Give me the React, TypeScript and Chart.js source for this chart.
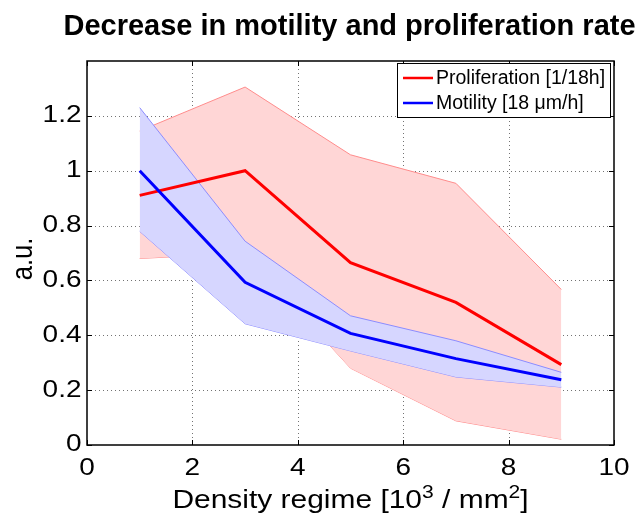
import React, { useEffect, useRef } from "react";
import { Chart, registerables } from "chart.js";

Chart.register(...registerables);

const xValues = [1, 3, 5, 7, 9];
const prolifMean = [0.91, 1.0, 0.665, 0.52, 0.293];
const prolifUpper = [1.145, 1.305, 1.058, 0.954, 0.567];
const prolifLower = [0.68, 0.7, 0.28, 0.088, 0.021];
const motilMean = [1.0, 0.593, 0.407, 0.315, 0.238];
const motilUpper = [1.23, 0.743, 0.471, 0.38, 0.265];
const motilLower = [0.779, 0.442, 0.343, 0.248, 0.211];

const xTicks = [0, 2, 4, 6, 8, 10];
const yTicks = [0, 0.2, 0.4, 0.6, 0.8, 1, 1.2];
const yMax = 1.4;

const titleText = "Decrease in motility and proliferation rate";
const yTitle = "a.u.";
const legendLabels = ["Proliferation [1/18h]", "Motility [18 \u03bcm/h]"];

const FONT = '"Liberation Sans", Arial, Helvetica, sans-serif';

const pts = (ys: number[]) => xValues.map((x, i) => ({ x, y: ys[i] }));

function sText(
  ctx: CanvasRenderingContext2D,
  text: string,
  x: number,
  y: number,
  font: string,
  align: CanvasTextAlign,
  baseline: CanvasTextBaseline,
  sx = 1
) {
  ctx.save();
  ctx.font = font;
  ctx.textAlign = align;
  ctx.textBaseline = baseline;
  ctx.fillStyle = "#000";
  ctx.translate(x, y);
  ctx.scale(sx, 1);
  ctx.fillText(text, 0, 0);
  ctx.restore();
}

const decor = {
  id: "decor",
  beforeDatasetsDraw(chart: any) {
    const { ctx, chartArea: a, scales } = chart;
    ctx.save();
    ctx.strokeStyle = "rgba(0,0,0,0.55)";
    ctx.lineWidth = 1;
    ctx.setLineDash([1, 3]);
    xTicks.forEach((t) => {
      if (t <= 0 || t >= 10) return;
      const px = Math.round(scales.x.getPixelForValue(t)) + 0.5;
      ctx.beginPath();
      ctx.moveTo(px, a.top);
      ctx.lineTo(px, a.bottom);
      ctx.stroke();
    });
    yTicks.forEach((t) => {
      if (t <= 0) return;
      const py = Math.round(scales.y.getPixelForValue(t)) + 0.5;
      ctx.beginPath();
      ctx.moveTo(a.left, py);
      ctx.lineTo(a.right, py);
      ctx.stroke();
    });
    ctx.restore();
  },
  afterDraw(chart: any) {
    const { ctx, chartArea: a, scales } = chart;
    ctx.save();
    // axes box
    ctx.strokeStyle = "#000";
    ctx.lineWidth = 1.5;
    ctx.strokeRect(a.left, a.top, a.right - a.left, a.bottom - a.top);
    // inward ticks
    ctx.lineWidth = 1;
    const L = 5;
    xTicks.forEach((t) => {
      const px = Math.round(scales.x.getPixelForValue(t)) + 0.5;
      ctx.beginPath();
      ctx.moveTo(px, a.bottom);
      ctx.lineTo(px, a.bottom - L);
      ctx.moveTo(px, a.top);
      ctx.lineTo(px, a.top + L);
      ctx.stroke();
    });
    yTicks.forEach((t) => {
      const py = Math.round(scales.y.getPixelForValue(t)) + 0.5;
      ctx.beginPath();
      ctx.moveTo(a.left, py);
      ctx.lineTo(a.left + L, py);
      ctx.moveTo(a.right, py);
      ctx.lineTo(a.right - L, py);
      ctx.stroke();
    });

    // tick labels
    const tickFont = `23.5px ${FONT}`;
    const TS = 1.19;
    xTicks.forEach((t) => {
      const px = scales.x.getPixelForValue(t);
      sText(ctx, String(t), px, 475, tickFont, "center", "alphabetic", TS);
    });
    yTicks.forEach((t) => {
      const py = scales.y.getPixelForValue(t);
      sText(ctx, String(Math.round(t * 10) / 10), 81.5, py, tickFont, "right", "middle", TS);
    });

    // legend
    const lx = 397, ly = 63, lw = 213, lh = 54;
    ctx.fillStyle = "#fff";
    ctx.fillRect(lx, ly, lw, lh);
    ctx.strokeStyle = "#000";
    ctx.lineWidth = 1;
    ctx.strokeRect(lx + 0.5, ly + 0.5, lw, lh);
    const colors = ["#ff0000", "#0000ff"];
    const rows = [78, 103];
    rows.forEach((ry, i) => {
      ctx.strokeStyle = colors[i];
      ctx.lineWidth = 2.5;
      ctx.beginPath();
      ctx.moveTo(403, ry);
      ctx.lineTo(433, ry);
      ctx.stroke();
      sText(ctx, legendLabels[i], 436, ry + 1, `19.5px ${FONT}`, "left", "middle", 1);
    });

    // title
    sText(ctx, titleText, 349.5, 35, `bold 29px ${FONT}`, "center", "alphabetic", 1);

    // y title (image is stretched horizontally, i.e. along the text height)
    ctx.save();
    ctx.translate(24, 259);
    ctx.scale(1.17, 1);
    ctx.rotate(-Math.PI / 2);
    ctx.font = `25.6px ${FONT}`;
    ctx.textAlign = "center";
    ctx.textBaseline = "middle";
    ctx.fillStyle = "#000";
    ctx.fillText(yTitle, 0, 0);
    ctx.restore();

    // x title with superscripts
    const segs: { t: string; sup: boolean }[] = [
      { t: "Density regime [10", sup: false },
      { t: "3", sup: true },
      { t: " / mm", sup: false },
      { t: "2", sup: true },
      { t: "]", sup: false },
    ];
    const XS = 1.17;
    const normal = `25.6px ${FONT}`;
    const small = `18px ${FONT}`;
    let total = 0;
    segs.forEach((s) => {
      ctx.font = s.sup ? small : normal;
      total += ctx.measureText(s.t).width * XS;
    });
    let cx = 350.5 - total / 2;
    const base = 508;
    segs.forEach((s) => {
      const f = s.sup ? small : normal;
      sText(ctx, s.t, cx, s.sup ? base - 10 : base, f, "left", "alphabetic", XS);
      ctx.font = f;
      cx += ctx.measureText(s.t).width * XS;
    });
    ctx.restore();
  },
};

export default function App() {
  const ref = useRef<HTMLCanvasElement | null>(null);
  useEffect(() => {
    if (!ref.current) return;
    const chart = new Chart(ref.current, {
      type: "line",
      data: {
        datasets: [
          {
            label: "pu",
            data: pts(prolifUpper),
            borderColor: "rgb(255,140,140)",
            borderWidth: 1,
            backgroundColor: "rgb(255,214,214)",
            fill: "+1",
            pointRadius: 0,
            order: 5,
          },
          {
            label: "pl",
            data: pts(prolifLower),
            borderColor: "rgb(255,140,140)",
            borderWidth: 1,
            fill: false,
            pointRadius: 0,
            order: 5,
          },
          {
            label: "mu",
            data: pts(motilUpper),
            borderColor: "rgb(140,140,255)",
            borderWidth: 1,
            backgroundColor: "rgb(214,214,255)",
            fill: "+1",
            pointRadius: 0,
            order: 4,
          },
          {
            label: "ml",
            data: pts(motilLower),
            borderColor: "rgb(140,140,255)",
            borderWidth: 1,
            fill: false,
            pointRadius: 0,
            order: 4,
          },
          {
            label: legendLabels[0],
            data: pts(prolifMean),
            borderColor: "#ff0000",
            borderWidth: 3,
            fill: false,
            pointRadius: 0,
            order: 2,
          },
          {
            label: legendLabels[1],
            data: pts(motilMean),
            borderColor: "#0000ff",
            borderWidth: 3,
            fill: false,
            pointRadius: 0,
            order: 1,
          },
        ],
      },
      options: {
        animation: false,
        responsive: true,
        maintainAspectRatio: false,
        layout: { padding: { top: 61, right: 28, left: 0, bottom: 0 } },
        plugins: {
          legend: { display: false },
          tooltip: { enabled: false },
          title: { display: false },
        },
        elements: { line: { tension: 0 } },
        scales: {
          x: {
            type: "linear",
            min: 0,
            max: 10,
            afterFit: (s: any) => {
              s.height = 70;
            },
            grid: { display: false, drawTicks: false },
            border: { display: false },
            ticks: { display: false },
          },
          y: {
            type: "linear",
            min: 0,
            max: yMax,
            afterFit: (s: any) => {
              s.width = 87;
            },
            grid: { display: false, drawTicks: false },
            border: { display: false },
            ticks: { display: false },
          },
        },
      },
      plugins: [decor],
    });
    return () => chart.destroy();
  }, []);
  return (
    <div style={{ position: "fixed", left: 0, top: 0, width: 642, height: 515, background: "#fff" }}>
      <canvas ref={ref} />
    </div>
  );
}
